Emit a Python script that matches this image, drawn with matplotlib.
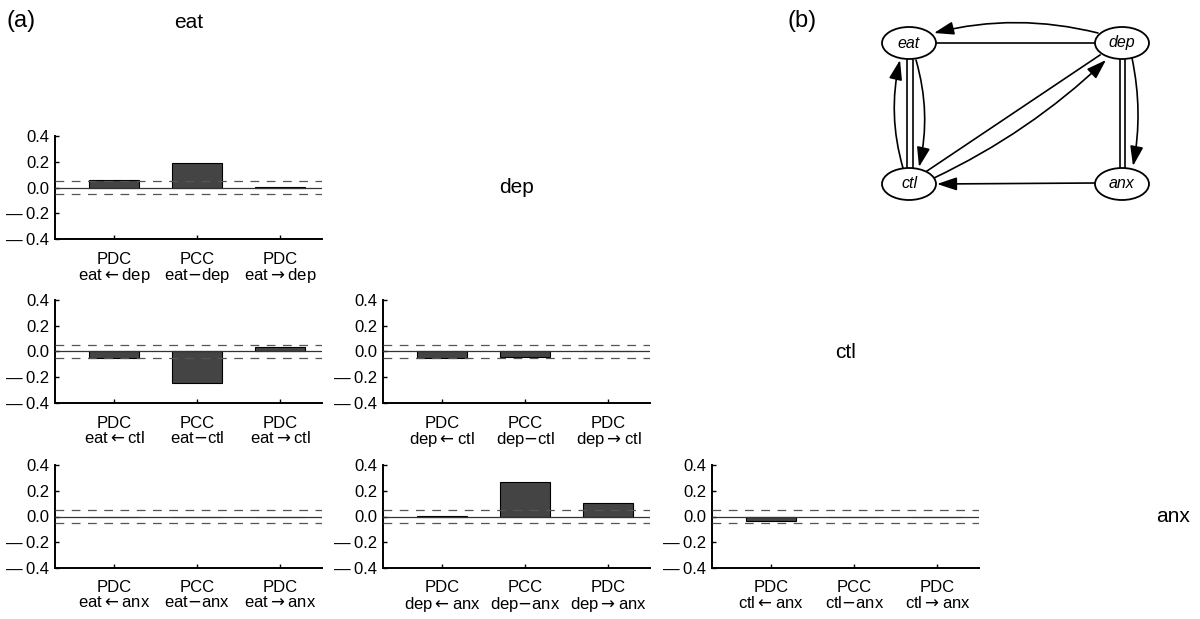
import matplotlib
matplotlib.use("Agg")
import matplotlib.pyplot as plt
from matplotlib.patches import Ellipse, FancyArrowPatch

plt.rcParams["font.family"] = ["Liberation Sans", "DejaVu Sans"]

# variáveis e pares (linha = segunda variável, coluna = primeira)
variaveis = ["eat", "dep", "ctl", "anx"]
limiar = 0.048
yticks = [-0.4, -0.2, 0.0, 0.2, 0.4]
ytick_labels = ["\u2014\u20090.4", "\u2014\u20090.2", "0.0", "0.2", "0.4"]

# valores por par: [PDC a<-b, PCC a-b, PDC a->b]
eat_dep = [0.06, 0.19, 0.002]
eat_ctl = [-0.05, -0.245, 0.035]
dep_ctl = [-0.05, -0.045, 0.002]
eat_anx = [0.0, 0.0, 0.0]
dep_anx = [0.002, 0.265, 0.105]
ctl_anx = [-0.033, 0.0, 0.0]

pares = {
    (0, 0): ("eat", "dep", eat_dep),
    (1, 0): ("eat", "ctl", eat_ctl),
    (1, 1): ("dep", "ctl", dep_ctl),
    (2, 0): ("eat", "anx", eat_anx),
    (2, 1): ("dep", "anx", dep_anx),
    (2, 2): ("ctl", "anx", ctl_anx),
}

# grafo do painel (b)
nos = {"eat": (909, 43), "dep": (1122, 43), "ctl": (909, 184), "anx": (1122, 184)}

W, H = 1200, 619
fig = plt.figure(figsize=(W / 100, H / 100), dpi=100)

col_left = [55, 383, 712, 1040]
row_top = [136, 300, 465]
ax_w, ax_h = 267, 103


def rect(left, top, w, h):
    return [left / W, (H - top - h) / H, w / W, h / H]


x = [1, 2, 3]
for (r, c), (a, b, vals) in pares.items():
    ax = fig.add_axes(rect(col_left[c], row_top[r], ax_w, ax_h))
    ax.bar(x, vals, width=0.6, color="#444444", edgecolor="black", linewidth=0.8, zorder=2)
    ax.axhline(0, color="#333333", linewidth=0.9, zorder=3)
    ax.axhline(limiar, color="#555555", linestyle=(0, (7, 6)), linewidth=0.9, zorder=3)
    ax.axhline(-limiar, color="#555555", linestyle=(0, (7, 6)), linewidth=0.9, zorder=3)
    ax.set_xlim(0.29, 3.5)
    ax.set_ylim(-0.4, 0.4)
    ax.set_yticks(yticks)
    ax.set_yticklabels(ytick_labels)
    ax.set_xticks(x)
    ax.set_xticklabels([f"PDC\n{a}${{\\leftarrow}}${b}", f"PCC\n{a}${{-}}${b}",
                        f"PDC\n{a}${{\\rightarrow}}${b}"], linespacing=0.95)
    ax.tick_params(direction="in", length=3, width=1, labelsize=12, pad=4)
    ax.tick_params(axis="x", pad=9)
    ax.spines[["top", "right"]].set_visible(False)
    ax.spines[["left", "bottom"]].set_linewidth(1.4)

# nomes das variáveis na diagonal
for i, v in enumerate(variaveis):
    cx = (col_left[i] + ax_w / 2) / W
    cy = (H - (row_top[0] + ax_h / 2 + (i - 1) * 164.5)) / H
    fig.text(cx, cy, v, ha="center", va="center", fontsize=15)

fig.text(21 / W, 1 - 21 / H, "(a)", ha="center", va="center", fontsize=17)
fig.text(802 / W, 1 - 21 / H, "(b)", ha="center", va="center", fontsize=17)

# painel (b): grafo
axg = fig.add_axes(rect(860, 0, 300, 220))
axg.set_xlim(860, 1160)
axg.set_ylim(220, 0)
axg.axis("off")

for nome, (nx, ny) in nos.items():
    axg.add_patch(Ellipse((nx, ny), 54, 32, facecolor="white", edgecolor="black",
                          linewidth=1.3, zorder=3))
    axg.text(nx, ny, nome, ha="center", va="center", fontsize=11.5, style="italic", zorder=4)

# linhas não direcionadas (PCC)
linhas = [
    ((936, 43), (1095, 43)),
    ((907, 60), (907, 168)),
    ((913, 60), (913, 168)),
    ((927, 171), (1100, 55)),
    ((1120, 60), (1120, 168)),
    ((1125, 60), (1125, 168)),
]
for (x0, y0), (x1, y1) in linhas:
    axg.plot([x0, x1], [y0, y1], color="black", linewidth=1.2, zorder=2)

# setas direcionadas (PDC)
setas = [
    ((1098, 33), (934, 33), 0.125),
    ((903, 168), (900, 60), -0.13),
    ((916, 60), (919, 167), -0.13),
    ((934, 178), (1106, 60), 0.08),
    ((1132, 58), (1133, 166), -0.1),
    ((1095, 183), (937, 184), 0.0),
]
for p0, p1, rad in setas:
    axg.add_patch(FancyArrowPatch(p0, p1, connectionstyle=f"arc3,rad={rad}",
                                  arrowstyle="-|>,head_length=12,head_width=4",
                                  mutation_scale=1, shrinkA=0, shrinkB=0,
                                  color="black", linewidth=1.2, zorder=2))

plt.savefig("out.png", dpi=100)
